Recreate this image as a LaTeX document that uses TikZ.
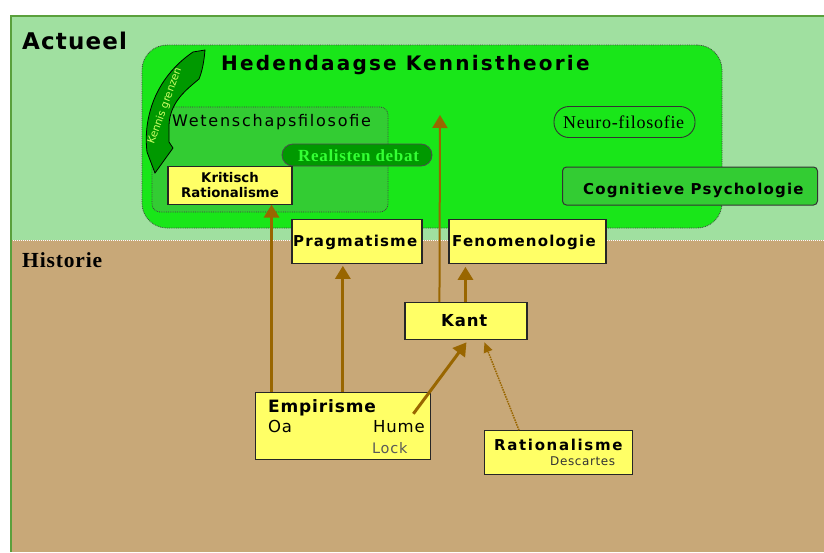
\documentclass[tikz,border=0pt]{standalone}
\usepackage{fontspec}
\setmainfont{DejaVu Sans}
\newfontfamily\vs[LetterSpace=11]{DejaVu Sans}
\newfontfamily\vsm[LetterSpace=8]{DejaVu Sans}
\newfontfamily\vsa[LetterSpace=5]{DejaVu Sans}
\newfontfamily\vsn{DejaVu Sans}
\newfontfamily\tms[LetterSpace=4]{Liberation Serif}
\usetikzlibrary{arrows.meta,calc}
\definecolor{lg}{HTML}{A0E0A0}
\definecolor{tan}{HTML}{C8A878}
\definecolor{hg}{HTML}{19E619}
\definecolor{wg}{HTML}{33CC33}
\definecolor{dg}{HTML}{009900}
\definecolor{yel}{HTML}{FFFF66}
\definecolor{brn}{HTML}{996600}
\definecolor{frame}{HTML}{5AA03C}
\definecolor{kgt}{HTML}{CCFF66}
\definecolor{rdt}{HTML}{33FF33}
\tikzset{
  ybox/.style={draw=black!85, line width=1.1pt, fill=yel, inner sep=0pt},
  gbox/.style={draw=black!75, densely dotted, line width=0.8pt},
  arr/.style={draw=brn, line width=3pt, -{Triangle[width=15pt,length=13pt]}},
  thinarr/.style={draw=brn, line width=2pt, -{Triangle[width=15pt,length=13pt]}},
  dotarr/.style={draw=brn, line width=1.5pt, densely dotted, -{Triangle[width=9pt,length=10pt]}},
  lbl/.style={inner sep=0pt, anchor=base west},
}
\begin{document}
\begin{tikzpicture}[x=1pt,y=-1pt]
\useasboundingbox (0,0) rectangle (824,552);
\fill[white] (0,0) rectangle (824,552);
\fill[lg] (10,15) rectangle (824,240);
\fill[tan] (10,240) rectangle (824,552);
\draw[white, line width=1pt, dash pattern=on 1pt off 1pt] (11,240.5) -- (824,240.5);
\draw[frame, line width=2pt] (11,552) -- (11,16) -- (824,16);

% labels of the two eras
\node[lbl, font=\vsa\bfseries\fontsize{23}{26}\selectfont] (actueel) at (22,49) {Actueel};
\node[lbl, font=\tms\bfseries\fontsize{21.5}{24}\selectfont] (historie) at (22,267) {Historie};

% Hedendaagse Kennistheorie
\node[gbox, fill=hg, rounded corners=25pt, minimum width=580pt, minimum height=183pt] (ht) at (432,136.5) {};
\node[lbl, font=\vs\bfseries\fontsize{20}{24}\selectfont] (httitle) at (221,70) {Hedendaagse Kennistheorie};

% Wetenschapsfilosofie
\node[gbox, fill=wg, rounded corners=8pt, minimum width=236pt, minimum height=105pt] (wf) at (270,159.5) {};
\node[lbl, font=\vs\fontsize{16}{18}\selectfont] (wftitle) at (172,126) {Wetenschapsfilosofie};

% Kennis grenzen curved arrow
\draw[fill=dg, draw=black, line width=0.8pt] (193,52) -- (205,50)
  .. controls (204,62) and (202,72) .. (199,79)
  .. controls (186,90) and (170,102) .. (169,125)
  -- (169,142) -- (173,148) -- (155,173) -- (147,152)
  .. controls (143,118) and (155,78) .. (193,52) -- cycle;
\node[inner sep=0pt, rotate=70, text=kgt, font=\vsn\fontsize{10.5}{12}\selectfont] (kg) at (165,106) {Kennis grenzen};

% Realisten debat
\node[draw=black!70, line width=0.8pt, fill=dg, rounded corners=11pt, minimum width=150pt, minimum height=22pt, inner sep=0pt] (rd) at (357,155) {};
\node[lbl, font=\tms\bfseries\fontsize{17}{20}\selectfont, text=rdt] (rdt) at (298,161) {Realisten debat};

% Kritisch Rationalisme
\node[ybox, minimum width=124pt, minimum height=37.5pt, align=center, font=\vsn\bfseries\fontsize{13.3}{14.8}\selectfont] (kr) at (230,185.3) {Kritisch\\Rationalisme};

% Neuro-filosofie
\node[draw=black!80, line width=0.9pt, rounded corners=15pt, minimum width=141pt, minimum height=31pt, inner sep=0pt] (nf) at (624.5,122) {};
\node[lbl, font=\tms\fontsize{18}{20}\selectfont] (nft) at (563,128.3) {Neuro-filosofie};

% Cognitieve Psychologie
\node[draw=black!80, line width=1pt, fill=wg, rounded corners=4pt, minimum width=255pt, minimum height=38pt, inner sep=0pt] (cp) at (690,186) {};
\node[lbl, font=\vsm\bfseries\fontsize{15}{17}\selectfont] (cpt) at (583,194.3) {Cognitieve Psychologie};

% Pragmatisme, Fenomenologie, Kant
\node[ybox, minimum width=130pt, minimum height=44pt] (prag) at (357,241.3) {};
\node[lbl, font=\vsm\bfseries\fontsize{15}{17}\selectfont] (pragt) at (293,246.7) {Pragmatisme};
\node[ybox, minimum width=157pt, minimum height=44pt] (fen) at (527.5,241.3) {};
\node[lbl, font=\vsm\bfseries\fontsize{15}{17}\selectfont] (fent) at (452,246.7) {Fenomenologie};
\node[ybox, minimum width=122pt, minimum height=36.6pt] (kant) at (466,321) {};
\node[lbl, font=\vsa\bfseries\fontsize{16.5}{19}\selectfont] (kantt) at (441,326.7) {Kant};

% Empirisme
\node[ybox, minimum width=175pt, minimum height=66.7pt] (emp) at (343.3,425.7) {};
\node[lbl, font=\vsa\bfseries\fontsize{17}{19}\selectfont] (empt) at (268,412) {Empirisme};
\node[lbl, font=\vsa\fontsize{16.5}{19}\selectfont] (oa) at (268,432.7) {Oa};
\node[lbl, font=\vsa\fontsize{16.5}{19}\selectfont] (hume) at (373,432.7) {Hume};
\node[lbl, font=\vsa\fontsize{14.5}{17}\selectfont, text=black!65] (lock) at (372,453.3) {Lock};

% Rationalisme
\node[ybox, minimum width=148pt, minimum height=43.6pt] (rat) at (558.5,452.5) {};
\node[lbl, font=\vs\bfseries\fontsize{15}{17}\selectfont] (ratt) at (494,450) {Rationalisme};
\node[lbl, font=\vsa\fontsize{12}{14}\selectfont, text=black!80] (desc) at (550,465.7) {Descartes};

% connectors
\coordinate (e1) at ($(emp.north west)+(16.3,0)$);
\coordinate (e2) at ($(emp.north west)+(87.6,0)$);
\coordinate (e3) at ($(emp.north east)+(-18,22)$);
\coordinate (k1) at ($(kant.north west)+(35,0)$);
\coordinate (k2) at ($(kant.north west)+(61,0)$);
\coordinate (kantup) at (440,115);
\coordinate (r1) at ($(rat.north west)+(35,0)$);
\draw[arr] (e1) -- (e1 |- kr.south);
\draw[arr] (e2) -- ($(e2 |- prag.south)+(0,2)$);
\draw[thinarr] (k1) -- (kantup);
\draw[arr] (k2) -- ($(k2 |- fen.south)+(0,3)$);
\draw[arr] (e3) -- ($(kant.south west)+(62,2.5)$);
\draw[dotarr] (r1) -- ($(kant.south west)+(80,2.5)$);
\end{tikzpicture}
\end{document}
